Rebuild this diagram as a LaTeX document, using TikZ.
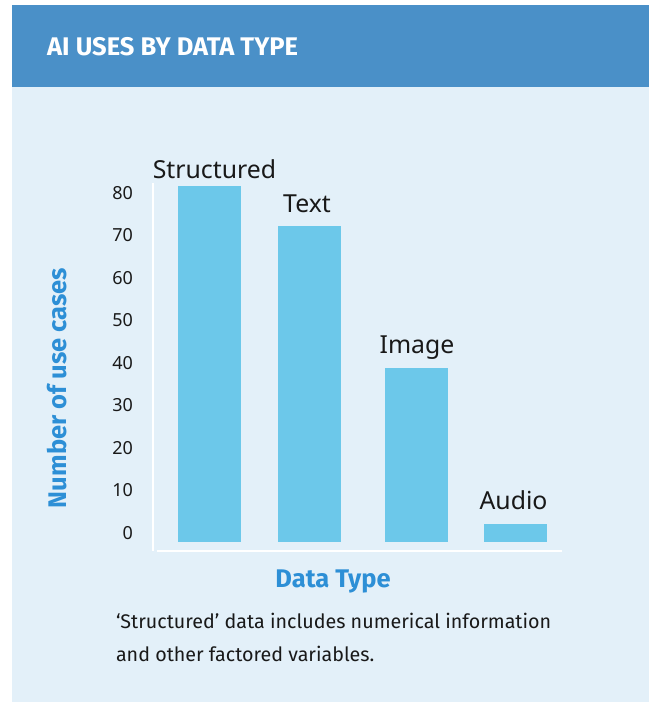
\documentclass[tikz,border=0pt]{standalone}
\usepackage{fontspec}
\setmainfont{Noto Sans}
\newfontfamily\firafont{Fira Sans}
\definecolor{headerblue}{RGB}{74,144,200}
\definecolor{panelblue}{RGB}{227,240,249}
\definecolor{barblue}{RGB}{108,200,234}
\definecolor{titleblue}{RGB}{45,143,214}
\definecolor{inkgray}{RGB}{25,25,25}
\tikzset{
  lbl/.style={inner sep=0pt, outer sep=0pt, text=inkgray},
  barlbl/.style={lbl, anchor=base, font=\fontsize{24.8}{27}\selectfont},
  ticklbl/.style={lbl, anchor=east, font=\fontsize{18}{20}\selectfont},
  axtitle/.style={inner sep=0pt, outer sep=0pt, text=titleblue, font=\firafont\bfseries\fontsize{25.5}{27}\selectfont},
  databar/.style={fill=barblue, draw=none},
  axisline/.style={draw=white, line width=2.5pt}
}
\begin{document}
\begin{tikzpicture}[x=1pt,y=-1pt]
\useasboundingbox (0,0) rectangle (649,702);
\fill[white] (0,0) rectangle (649,702);
% card
\fill[panelblue] (12,5) rectangle (649,702);
\fill[headerblue] (12,5) rectangle (649,87);
\node[inner sep=0pt, anchor=base west, text=white, font=\firafont\bfseries\fontsize{25.5}{28}\selectfont] (title) at (47,55) {AI USES BY DATA TYPE};
% axes
\coordinate (ytop) at (153,183);
\coordinate (ybot) at (153,551);
\coordinate (xleft) at (157,551);
\coordinate (xright) at (562,551);
\draw[axisline] (ytop) -- (ybot);
\draw[axisline] (xleft) -- (xright);
% bars
\fill[databar] (178,186) rectangle (241,542);
\fill[databar] (278,226) rectangle (341,542);
\fill[databar] (385,368) rectangle (448,542);
\fill[databar] (484,524) rectangle (547,542);
% bar labels
\node[barlbl] (lstruct) at (214.5,178) {Structured};
\node[barlbl] (ltext) at (307,212) {Text};
\node[barlbl] (limage) at (417,353) {Image};
\node[barlbl] (laudio) at (513.5,509) {Audio};
% ticks
\foreach \v [count=\i from 0] in {0,10,20,30,40,50,60,70,80}{
  \node[ticklbl] (t\v) at (133,533-42.5*\i) {\v};
}
% axis titles
\node[axtitle, rotate=90] (ytitle) at (57,388) {Number of use cases};
\node[axtitle, anchor=base] (xtitle) at (333,587) {Data Type};
% footnote
\node[lbl, anchor=base west, font=\firafont\fontsize{19.7}{22}\selectfont] (note1) at (116,628) {‘Structured’ data includes numerical information};
\node[lbl, anchor=base west, font=\firafont\fontsize{19.7}{22}\selectfont] (note2) at (116,661) {and other factored variables.};
\end{tikzpicture}
\end{document}
